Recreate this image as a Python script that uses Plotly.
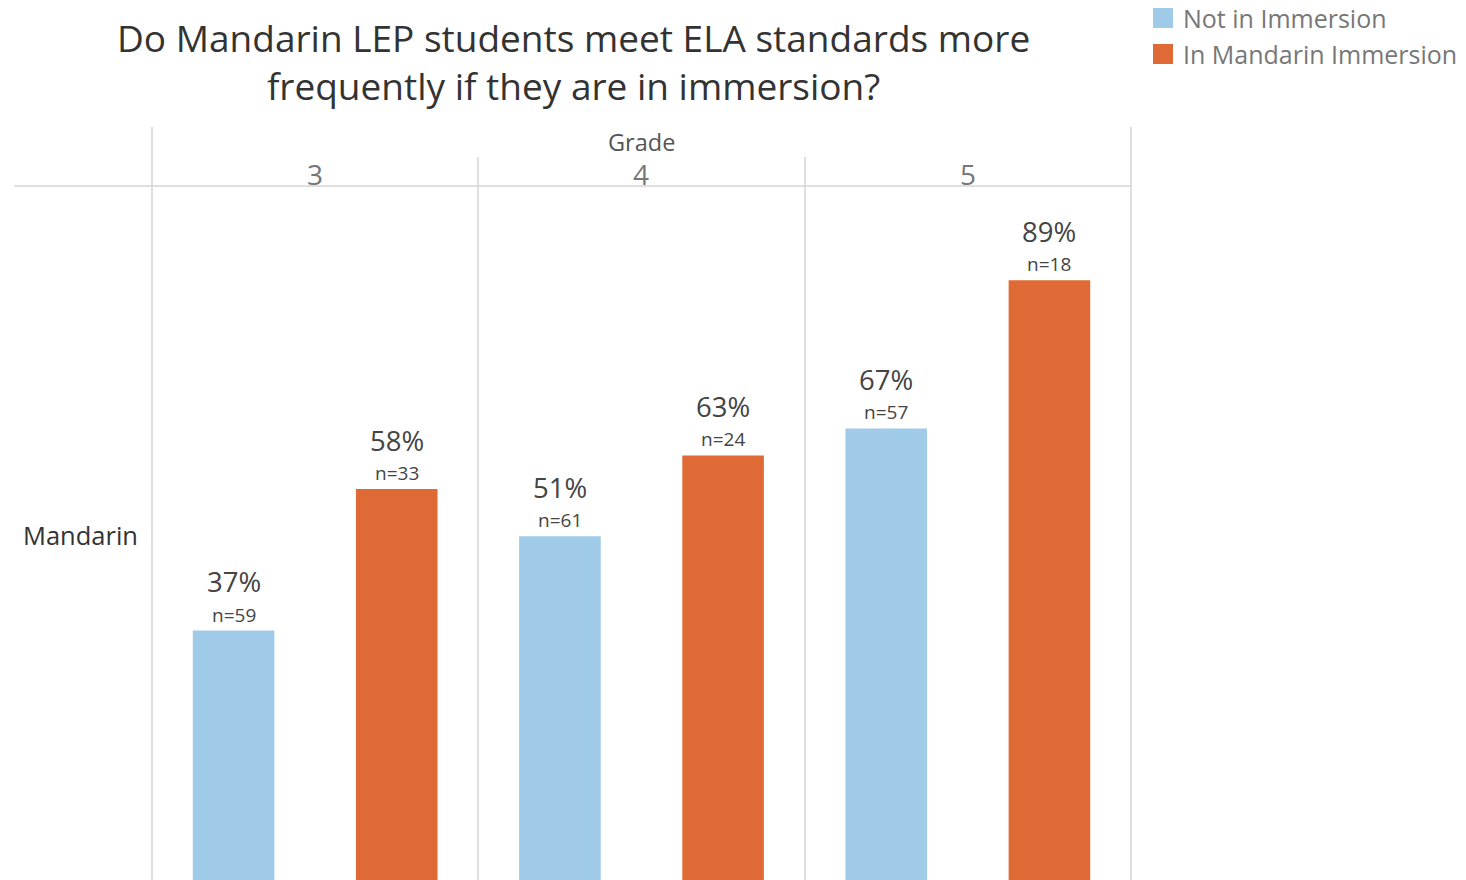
import plotly.graph_objects as go
from plotly.subplots import make_subplots

# ---- data ----
grades = ["3", "4", "5"]
series_names = ["Not in Immersion", "In Mandarin Immersion"]
not_immersion_pct = [37, 51, 67]
immersion_pct = [58, 63, 89]
not_immersion_n = [59, 61, 57]
immersion_n = [33, 24, 18]
row_label = "Mandarin"
title_text = "Do Mandarin LEP students meet ELA standards more<br>frequently if they are in immersion?"

colors = ["#A0CBE8", "#E06A36"]

W, H = 1466, 880
FONT = "Open Sans"

def px_x(p):
    return p / W

def px_y(p):
    return 1 - p / H

left_px, right_px = 152, 1131
top_px = 186
panel_w = (right_px - left_px) / 3

fig = make_subplots(rows=1, cols=3, shared_yaxes=True, horizontal_spacing=0)

series_vals = [not_immersion_pct, immersion_pct]
series_ns = [not_immersion_n, immersion_n]

annotations = []
for gi, g in enumerate(grades):
    for si, name in enumerate(series_names):
        fig.add_trace(
            go.Bar(
                x=[name],
                y=[series_vals[si][gi]],
                marker=dict(color=colors[si], line=dict(width=0)),
                name=name,
                showlegend=False,
                hoverinfo="skip",
            ),
            row=1, col=gi + 1,
        )
        xref = "x" if gi == 0 else f"x{gi + 1}"
        annotations.append(dict(
            x=name, y=series_vals[si][gi], xref=xref, yref="y",
            text=f"{series_vals[si][gi]}%", showarrow=False,
            yanchor="middle", yshift=49,
            font=dict(family=FONT, size=27.5, color="#444444"),
        ))
        annotations.append(dict(
            x=name, y=series_vals[si][gi], xref=xref, yref="y",
            text=f"n={series_ns[si][gi]}", showarrow=False,
            yanchor="middle", yshift=16,
            font=dict(family=FONT, size=19, color="#444444"),
        ))
    # grade label
    dom = [px_x(left_px + gi * panel_w), px_x(left_px + (gi + 1) * panel_w)]
    axname = "xaxis" if gi == 0 else f"xaxis{gi + 1}"
    fig.layout[axname].update(
        domain=dom, type="category", categoryorder="array",
        categoryarray=series_names, range=[-0.5, 1.5],
        showticklabels=False, showgrid=False, zeroline=False, showline=False,
        fixedrange=True,
    )
    annotations.append(dict(
        x=(dom[0] + dom[1]) / 2, y=px_y(174), xref="paper", yref="paper",
        text=g, showarrow=False, xanchor="center", yanchor="middle",
        font=dict(family=FONT, size=28, color="#777777"),
    ))

# y axis
y0_px = 880
scale = 6.74
y_lo = (y0_px - H) / scale
y_hi = (y0_px - top_px) / scale
fig.update_yaxes(range=[y_lo, y_hi], domain=[0, px_y(top_px)], visible=False,
                 showgrid=False, zeroline=False, fixedrange=True)

# Header texts
annotations.append(dict(
    x=px_x(641), y=px_y(142), xref="paper", yref="paper", text="Grade",
    showarrow=False, xanchor="center", yanchor="middle",
    font=dict(family=FONT, size=23.5, color="#555555"),
))
annotations.append(dict(
    x=px_x(80), y=px_y(535), xref="paper", yref="paper", text=row_label,
    showarrow=False, xanchor="center", yanchor="middle",
    font=dict(family=FONT, size=25.5, color="#333333"),
))
annotations.append(dict(
    x=px_x(573), y=px_y(62), xref="paper", yref="paper", text=title_text,
    showarrow=False, xanchor="center", yanchor="middle", align="center",
    font=dict(family=FONT, size=37, color="#333333"),
))

# Legend (custom)
shapes = []
leg_y = [18, 54]
for si, name in enumerate(series_names):
    shapes.append(dict(type="rect", xref="paper", yref="paper",
                       x0=px_x(1153), x1=px_x(1173),
                       y0=px_y(leg_y[si] - 10), y1=px_y(leg_y[si] + 10),
                       fillcolor=colors[si], line=dict(width=0)))
    annotations.append(dict(
        x=px_x(1181), y=px_y(leg_y[si]), xref="paper", yref="paper", text=name,
        showarrow=False, xanchor="left", yanchor="middle",
        font=dict(family=FONT, size=25, color="#777777"),
    ))

# Grid lines
line_col = "#D4D4D4"
for xp, ytop in [(152, 127), (478, 157), (805, 157), (1131, 127)]:
    shapes.append(dict(type="line", xref="paper", yref="paper",
                       x0=px_x(xp), x1=px_x(xp), y0=px_y(ytop), y1=0,
                       line=dict(color=line_col, width=1.5), layer="below"))
shapes.append(dict(type="line", xref="paper", yref="paper",
                   x0=px_x(14), x1=px_x(1131), y0=px_y(186), y1=px_y(186),
                   line=dict(color=line_col, width=1.5), layer="below"))

fig.update_layout(
    width=W, height=H,
    margin=dict(l=0, r=0, t=0, b=0),
    paper_bgcolor="white", plot_bgcolor="white",
    bargap=0.5,
    showlegend=False,
    annotations=annotations,
    shapes=shapes,
    font=dict(family=FONT),
)

fig.write_html("out.html", config={"displayModeBar": False},
               post_script="document.body.style.margin='0';")
